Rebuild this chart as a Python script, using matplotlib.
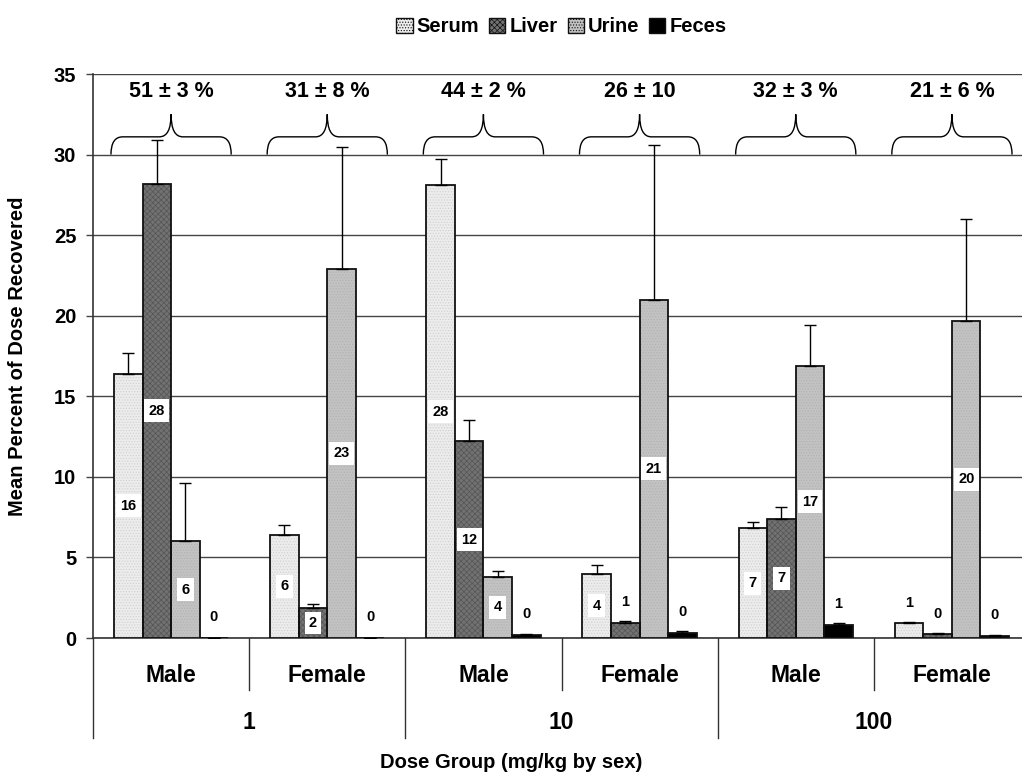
import numpy as np
import matplotlib
matplotlib.use("Agg")
import matplotlib.pyplot as plt
from matplotlib.path import Path
from matplotlib.patches import PathPatch, Patch

plt.rcParams['font.family'] = ['Liberation Sans', 'DejaVu Sans']
plt.rcParams['font.weight'] = 'bold'
plt.rcParams['hatch.linewidth'] = 0.5

# data
sexes = ["Male", "Female", "Male", "Female", "Male", "Female"]
doses = ["1", "10", "100"]
series = ["Serum", "Liver", "Urine", "Feces"]
serum = [16.4, 6.4, 28.1, 4.0, 6.8, 0.9]
serum_err = [1.3, 0.6, 1.6, 0.5, 0.4, 0.08]
liver = [28.2, 1.85, 12.2, 0.95, 7.4, 0.22]
liver_err = [2.7, 0.25, 1.3, 0.08, 0.7, 0.06]
urine = [6.0, 22.9, 3.8, 21.0, 16.9, 19.7]
urine_err = [3.6, 7.6, 0.35, 9.6, 2.5, 6.3]
feces = [0.0, 0.02, 0.2, 0.3, 0.8, 0.12]
feces_err = [0.0, 0.0, 0.05, 0.15, 0.13, 0.04]
totals = ["51 ± 3 %", "31 ± 8 %", "44 ± 2 %", "26 ± 10", "32 ± 3 %", "21 ± 6 %"]

values = [serum, liver, urine, feces]
errors = [serum_err, liver_err, urine_err, feces_err]
faces = ['#ececec', '#727272', '#c2c2c2', '#000000']
hatch_cols = ['#cfcfcf', '#555555', '#b2b2b2', '#000000']
hatches = ['......', 'xxxxxx', '......', None]

fig = plt.figure(figsize=(10.22, 7.78), dpi=100)
W, H = 1022, 778
ax = fig.add_axes([93 / W, (H - 638) / H, 937 / W, 564 / H])

n = len(sexes)
x = np.arange(n) + 0.5
w = 0.183

for j in range(4):
    xs = x + (j - 1.5) * w
    v = np.array(values[j])
    e = np.array(errors[j])
    ax.bar(xs, v, w, color=faces[j], hatch=hatches[j], edgecolor=hatch_cols[j],
           linewidth=0, zorder=3)
    ax.bar(xs, v, w, fill=False, edgecolor='#111111', linewidth=1.3, zorder=4)
    ax.errorbar(xs, v, yerr=[np.zeros(n), e], fmt='none', ecolor='black',
                elinewidth=1, capsize=4, capthick=1, zorder=5)
    for xi, vi in zip(xs, v):
        if vi >= 1.5:
            ax.text(xi, vi / 2, f"{vi:.0f}", ha='center', va='center', fontsize=10.5,
                    fontweight='bold', zorder=6,
                    bbox=dict(boxstyle='square,pad=0.3', fc='white', ec='none'))
        else:
            ax.text(xi, max(1.0, vi + 1.3), f"{vi:.0f}", ha='center', va='center',
                    fontsize=10.5, fontweight='bold', zorder=6)

# braces with totals
h, r = 0.385, 0.075
yb, ym, yt = 30.0, 31.1, 32.5
for c, t in zip(x, totals):
    x0, x1 = c - h, c + h
    verts = [(x0, yb), (x0, ym), (x0 + r, ym), (c - r, ym), (c, ym), (c, yt),
             (c, ym), (c + r, ym), (x1 - r, ym), (x1, ym), (x1, yb)]
    codes = [Path.MOVETO, Path.CURVE3, Path.CURVE3, Path.LINETO, Path.CURVE3, Path.CURVE3,
             Path.CURVE3, Path.CURVE3, Path.LINETO, Path.CURVE3, Path.CURVE3]
    ax.add_patch(PathPatch(Path(verts, codes), fill=False, ec='black', lw=1, zorder=5))
    ax.text(c, 33.9, t, ha='center', va='center', fontsize=15.5, fontweight='bold')

ax.set_xlim(0, n)
ax.set_ylim(0, 35)
ax.set_yticks(range(0, 36, 5))
ax.set_yticklabels([str(t) for t in range(0, 36, 5)], fontsize=14.5, fontweight='bold')
ax.tick_params(axis='y', direction='out', length=5, width=1, color='#444444', pad=7)
ax.set_xticks([])
ax.yaxis.grid(True, color='#444444', linewidth=1)
ax.set_axisbelow(True)
for s in ['top', 'right']:
    ax.spines[s].set_visible(False)
ax.spines['left'].set_color('#333333')
ax.spines['bottom'].set_color('#333333')
ax.spines['left'].set_linewidth(1.2)
ax.spines['bottom'].set_linewidth(1.2)

# category axis below
tr = ax.get_xaxis_transform()
for k in range(n + 1):
    depth = -0.177 if k % 2 == 0 else -0.092
    ax.plot([k, k], [0, depth], transform=tr, color='#333333', lw=1, clip_on=False)
for xi, s in zip(x, sexes):
    ax.text(xi, -0.066, s, transform=tr, ha='center', va='center', fontsize=16.5,
            fontweight='bold')
for k, d in enumerate(doses):
    ax.text(2 * k + 1, -0.149, d, transform=tr, ha='center', va='center', fontsize=16.5,
            fontweight='bold')

fig.text(0.5, (H - 763) / H, "Dose Group (mg/kg by sex)", ha='center', va='center',
         fontsize=14.5, fontweight='bold')
fig.text(18 / W, (H - 356) / H, "Mean Percent of Dose Recovered", rotation=90,
         ha='center', va='center', fontsize=14.5, fontweight='bold')

handles = [Patch(facecolor=faces[j], hatch=hatches[j], edgecolor='#111111', lw=1)
           for j in range(4)]
ax.legend(handles, series, loc='center', bbox_to_anchor=(0.5, 1 + 47 / 564), ncol=4,
          frameon=False, handlelength=0.8, handleheight=0.8, handletextpad=0.2,
          columnspacing=0.5, prop=dict(size=14.5, weight='bold'))

fig.savefig("out.png", dpi=100)
